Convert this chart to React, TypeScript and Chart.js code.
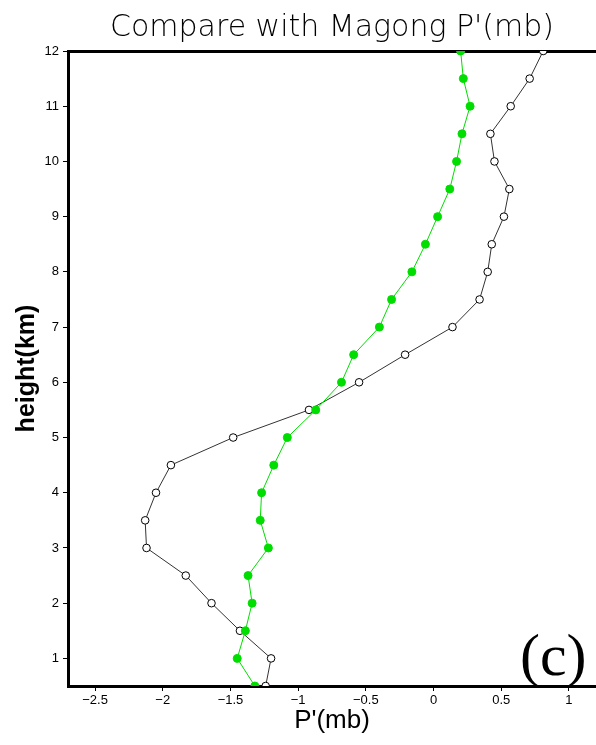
import React, { useEffect, useRef } from "react";
import { Chart, registerables } from "chart.js";

Chart.register(...registerables);

const heights = [0.5, 1, 1.5, 2, 2.5, 3, 3.5, 4, 4.5, 5, 5.5, 6, 6.5, 7, 7.5, 8, 8.5, 9, 9.5, 10, 10.5, 11, 11.5, 12];

const observedP = [-1.24, -1.2, -1.43, -1.64, -1.83, -2.12, -2.13, -2.05, -1.94, -1.48, -0.92, -0.55, -0.21, 0.14, 0.34, 0.4, 0.43, 0.52, 0.56, 0.45, 0.42, 0.57, 0.71, 0.81];

const modelP = [-1.32, -1.45, -1.39, -1.34, -1.37, -1.22, -1.28, -1.27, -1.18, -1.08, -0.87, -0.68, -0.59, -0.4, -0.31, -0.16, -0.06, 0.03, 0.12, 0.17, 0.21, 0.27, 0.22, 0.2];

const xTicks = [-2.5, -2, -1.5, -1, -0.5, 0, 0.5, 1];
const yTicks = [1, 2, 3, 4, 5, 6, 7, 8, 9, 10, 11, 12];

const X_MIN = -2.7;
const X_MAX = 1.2;
const Y_MIN = 0.5;
const Y_MAX = 12;

const panelLabel = {
  id: "panelLabel",
  afterDraw(chart: any) {
    const ctx = chart.ctx;
    ctx.save();
    ctx.font = "60px 'Liberation Serif', 'Times New Roman', serif";
    ctx.fillStyle = "#000";
    ctx.textAlign = "left";
    ctx.textBaseline = "alphabetic";
    ctx.fillText("(c)", 520, 675);
    ctx.restore();
  },
};

export default function App() {
  const ref = useRef<HTMLCanvasElement | null>(null);

  useEffect(() => {
    document.body.style.margin = "0";
    const canvas = ref.current;
    if (!canvas) return;
    const fmt = (v: number) => String(v).replace("-", "\u2212");
    const chart = new Chart(canvas, {
      type: "scatter",
      data: {
        datasets: [
          {
            label: "observed",
            data: heights.map((h, i) => ({ x: observedP[i], y: h })),
            showLine: true,
            borderColor: "#333333",
            borderWidth: 1,
            pointRadius: 3.8,
            pointBackgroundColor: "#ffffff",
            pointBorderColor: "#000000",
            pointBorderWidth: 1,
            clip: 0,
            order: 2,
          },
          {
            label: "model",
            data: heights.map((h, i) => ({ x: modelP[i], y: h })),
            showLine: true,
            borderColor: "#00dd00",
            borderWidth: 1,
            pointRadius: 4,
            pointBackgroundColor: "#00dd00",
            pointBorderColor: "#00dd00",
            pointBorderWidth: 1,
            clip: 0,
            order: 1,
          },
        ],
      },
      options: {
        responsive: false,
        animation: false,
        devicePixelRatio: 1,
        layout: { padding: 0, autoPadding: false },
        plugins: {
          legend: { display: false },
          tooltip: { enabled: false },
          title: {
            display: true,
            text: "Compare with Magong P'(mb)",
            fullSize: false,
            color: "#000",
            font: { family: "'DejaVu Sans', sans-serif", size: 30, weight: "200" as any, lineHeight: 1.2 },
            padding: { top: 10, bottom: 5 },
          },
        },
        scales: {
          x: {
            type: "linear",
            position: "bottom",
            min: X_MIN,
            max: X_MAX,
            afterBuildTicks: (scale: any) => {
              scale.ticks = xTicks.map((v) => ({ value: v }));
            },
            afterFit: (scale: any) => {
              scale.height = 59;
            },
            ticks: {
              color: "#000",
              font: { family: "'Liberation Sans', Arial, sans-serif", size: 13 },
              padding: 2,
              maxRotation: 0,
              autoSkip: false,
              callback: (v: any) => fmt(v),
            },
            grid: { display: true, drawOnChartArea: false, drawTicks: true, tickLength: 5, color: "#000", lineWidth: 1 },
            border: { display: true, color: "#000", width: 3 },
            title: {
              display: true,
              text: "P'(mb)",
              color: "#000",
              font: { family: "'Liberation Sans', Arial, sans-serif", size: 26, lineHeight: 1.2 },
              padding: { top: 0, bottom: 9 },
            },
          },
          xTop: {
            type: "linear",
            position: "top",
            min: X_MIN,
            max: X_MAX,
            afterFit: (scale: any) => {
              scale.height = 0;
            },
            ticks: { display: false },
            grid: { display: false, drawTicks: false },
            border: { display: true, color: "#000", width: 3 },
          },
          y: {
            type: "linear",
            position: "left",
            min: Y_MIN,
            max: Y_MAX,
            afterBuildTicks: (scale: any) => {
              scale.ticks = yTicks.map((v) => ({ value: v }));
            },
            afterFit: (scale: any) => {
              scale.width = 68;
            },
            ticks: {
              color: "#000",
              font: { family: "'Liberation Sans', Arial, sans-serif", size: 13 },
              padding: 4,
              autoSkip: false,
            },
            grid: { display: true, drawOnChartArea: false, drawTicks: true, tickLength: 5, color: "#000", lineWidth: 1 },
            border: { display: true, color: "#000", width: 3 },
            title: {
              display: true,
              text: "height(km)",
              color: "#000",
              font: { family: "'Liberation Sans', Arial, sans-serif", size: 25, weight: "bold", lineHeight: 1.2 },
              padding: { top: 12, bottom: 0 },
            },
          },
        },
      },
      plugins: [panelLabel],
    });
    return () => chart.destroy();
  }, []);

  return (
    <div style={{ width: 596, height: 745, background: "#fff" }}>
      <canvas ref={ref} width={596} height={745} style={{ width: 596, height: 745, display: "block" }} />
    </div>
  );
}
